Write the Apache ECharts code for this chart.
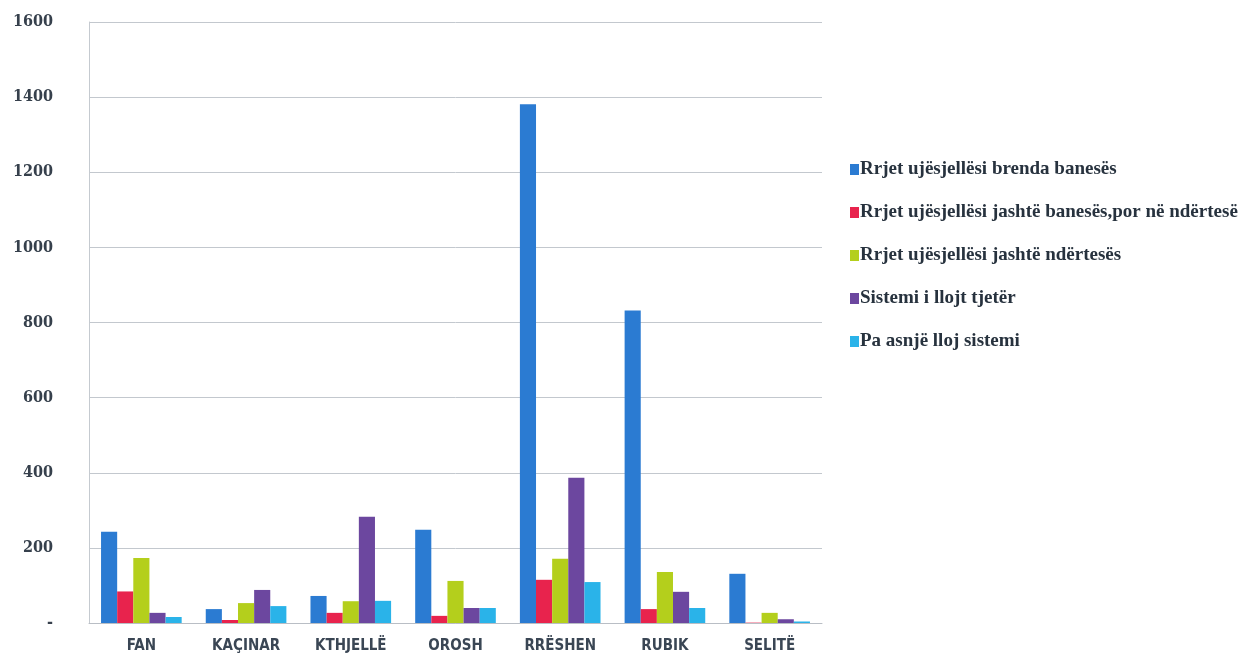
<!DOCTYPE html>
<html><head><meta charset="utf-8">
<script src="https://cdn.jsdelivr.net/npm/echarts@6/dist/echarts.min.js"></script>
<style>html,body{margin:0;padding:0;background:#fff}#c{width:1247px;height:663px}</style>
</head><body><div id="c"></div>
<script>
const categories = ["FAN", "KAÇINAR", "KTHJELLË", "OROSH", "RRËSHEN", "RUBIK", "SELITË"];
const seriesNames = [
  "Rrjet ujësjellësi brenda banesës",
  "Rrjet ujësjellësi jashtë banesës,por në ndërtesë",
  "Rrjet ujësjellësi jashtë ndërtesës",
  "Sistemi i llojt tjetër",
  "Pa asnjë lloj sistemi"
];
const brenda   = [243, 37, 72, 248, 1381, 832, 131];
const jashteBanese = [84, 8, 27, 19, 115, 37, 1];
const jashteNdertese = [173, 53, 58, 112, 171, 136, 27];
const tjeter   = [27, 88, 283, 40, 387, 83, 10];
const asnje    = [16, 45, 59, 40, 109, 40, 4];
const yTicks = [0, 200, 400, 600, 800, 1000, 1200, 1400, 1600];

const colors = ["#2b7bd2", "#e8234d", "#b4cf1c", "#6c479f", "#2ab3e9"];
const values = [brenda, jashteBanese, jashteNdertese, tjeter, asnje];

const chart = echarts.init(document.getElementById('c'));
chart.setOption({
  animation: false,
  backgroundColor: '#fff',
  grid: {left: 89, right: 425, top: 22, bottom: 40, containLabel: false},
  legend: {
    orient: 'vertical', left: 845, top: 155, itemGap: 24,
    itemWidth: 9, itemHeight: 11, icon: 'rect',
    textStyle: {fontFamily: 'Liberation Serif', fontWeight: 'bold', fontSize: 19, color: '#27323e', padding: [0,0,0,-4]},
    data: seriesNames
  },
  xAxis: {
    type: 'category', data: categories,
    axisLine: {lineStyle: {color: '#b9bec5'}},
    axisTick: {show: false},
    axisLabel: {margin: 16, fontFamily: 'DejaVu Sans Condensed', fontWeight: 'bold', fontSize: 15, color: '#3a4654'}
  },
  yAxis: {
    type: 'value', min: yTicks[0], max: yTicks[yTicks.length-1], interval: 200,
    axisLine: {show: true, lineStyle: {color: '#c5cad0'}},
    axisTick: {show: false},
    splitLine: {lineStyle: {color: '#c3c8ce'}},
    axisLabel: {margin: 36, fontFamily: 'DejaVu Serif Condensed', fontWeight: 'bold', fontSize: 16, color: '#36404c',
      formatter: v => v === 0 ? '-' : String(v)}
  },
  series: values.map((d, i) => ({
    name: seriesNames[i], type: 'bar', data: d,
    itemStyle: {color: colors[i]},
    barGap: '0%', barCategoryGap: '23%'
  }))
});
</script></body></html>
